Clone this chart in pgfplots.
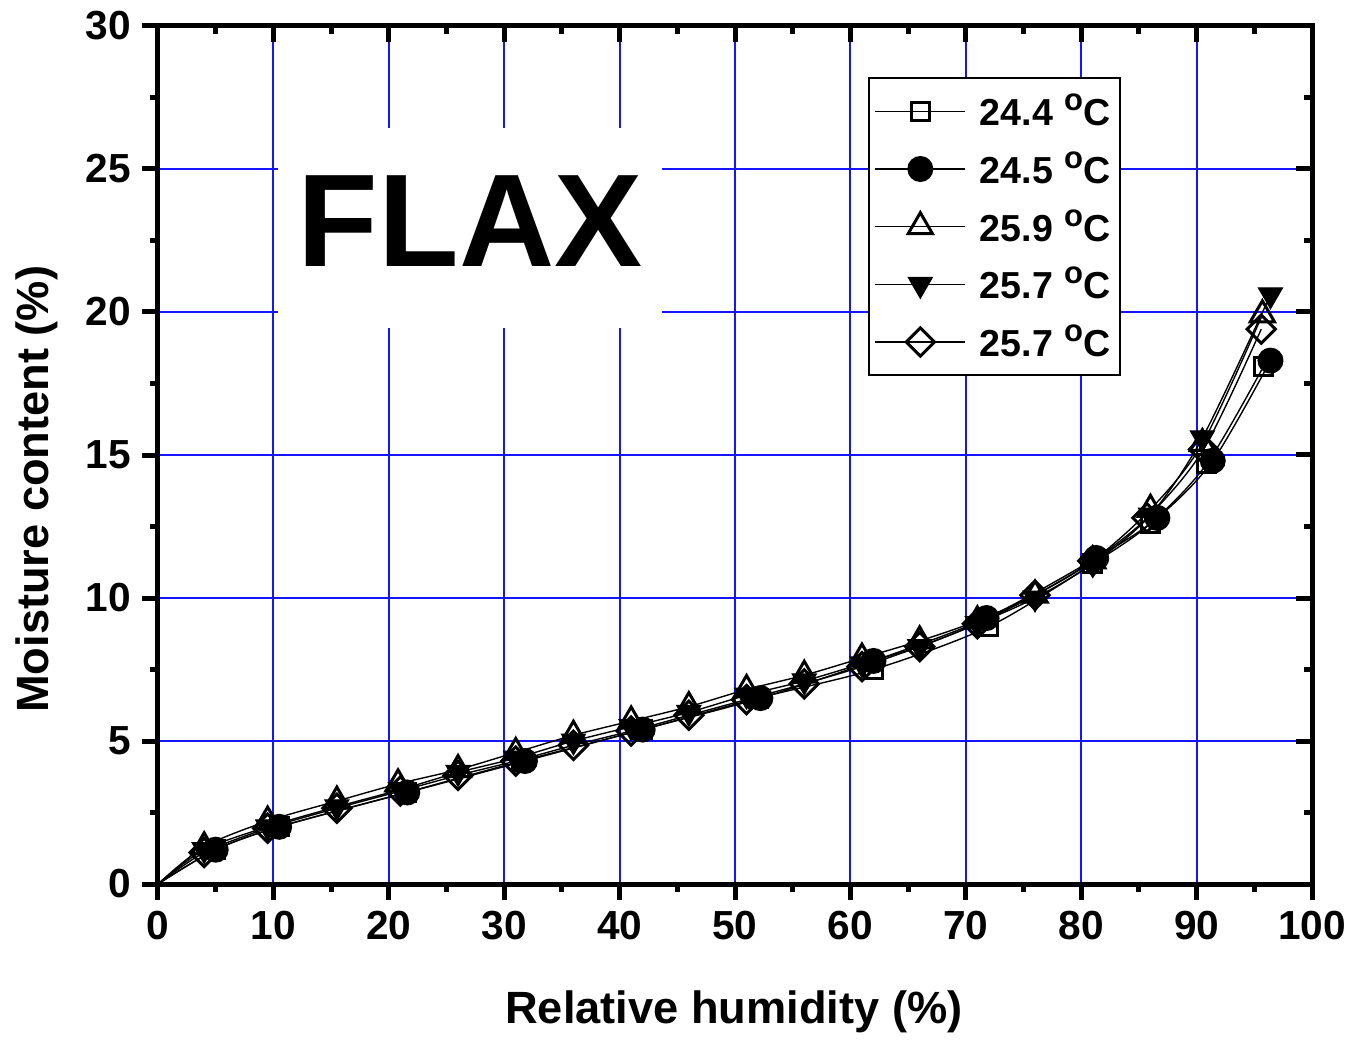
\documentclass[border=0pt]{standalone}
\usepackage{fontspec}
\setmainfont{Liberation Sans}
\usepackage{pgfplots}
\pgfplotsset{compat=1.18}

\definecolor{gridblue}{RGB}{20,20,255}
\newcommand\degc{\hspace{5.5pt}\raisebox{7.5pt}{\fontsize{15.5}{15}\selectfont o}C}

\begin{document}
\begin{tikzpicture}
\pgfplotsset{
  common/.style={
    width=577pt, height=429pt, scale only axis,
    xmin=0, xmax=100, ymin=0, ymax=30,
    xtick={0,10,...,100}, ytick={0,5,...,30},
    minor x tick num=1, minor y tick num=1,
    major tick length=8pt, minor tick length=4pt,
    every tick/.style={black, line width=2.5pt},
    every minor tick/.style={black, line width=2.5pt},
    axis line style={line width=2.5pt},
  }
}
\begin{axis}[common,
  xtick pos=left, ytick pos=left, tick align=outside,
  grid=major, major grid style={gridblue, line width=1pt},
  /pgf/number format/assume math mode=true,
  ticklabel style={font=\bfseries\fontsize{20.3}{24}\selectfont},
  xticklabel style={yshift=-2pt}, yticklabel style={xshift=-2pt},
  xlabel={\bfseries Relative humidity (\%)},
  ylabel={\bfseries Moisture content (\%)},
  label style={font=\bfseries\fontsize{22.6}{26}\selectfont},
  xlabel style={at={(axis description cs:0.499,-0.149)}, anchor=center},
  ylabel style={at={(axis description cs:-0.105,0.46)}, anchor=center},
  every axis plot/.append style={black, line width=0.7pt, smooth, mark phase=2},
  legend style={at={(0.615,0.9406)}, anchor=north west, draw=black, line width=1pt,
    fill=white, font=\bfseries\fontsize{18.8}{22}\selectfont,
    row sep=7.5pt, inner xsep=3pt, inner ysep=6pt,
    /tikz/every odd column/.append style={column sep=5pt},
    cells={anchor=west}},
  legend image code/.code={\draw[mark repeat=2,mark phase=2,line width=0.6pt] plot coordinates {(0pt,0pt)(22.5pt,0pt)(45pt,0pt)};},
]
\node[fill=white, inner xsep=10pt, inner ysep=24pt, text depth=7pt,
  font=\bfseries\fontsize{66}{72}\selectfont]
  at (axis cs:27.04,22.94) {FLAX};

\addplot[mark=square, mark size=4.5pt, mark options={fill=white, line width=1.5pt, solid}] coordinates {
(0,0) (5,1.2) (10.5,2.0) (21.5,3.2) (31.5,4.3) (42,5.4) (52,6.5) (62,7.5) (72,9.0) (81,11.2) (86,12.6) (90.9,14.7) (95.8,18.1)};
\addlegendentry{24.4\degc}

\addplot[mark=*, mark size=6pt, mark options={fill=black, line width=1pt}] coordinates {
(0,0) (5,1.2) (10.5,2.0) (21.6,3.2) (31.8,4.3) (42,5.4) (52.2,6.5) (62,7.8) (71.8,9.3) (81.3,11.4) (86.6,12.8) (91.4,14.8) (96.4,18.3)};
\addlegendentry{24.5\degc}

\addplot[mark=triangle, mark size=7pt, mark options={fill=white, line width=1.5pt}] coordinates {
(0,0) (4,1.3) (9.5,2.2) (15.5,2.9) (20.8,3.5) (26,4.0) (31,4.6) (36,5.2) (41,5.7) (46,6.2) (51,6.8) (56,7.3) (61,7.9) (66,8.5) (71,9.2) (76,10.1) (81,11.3) (86,13.1) (90.5,15.4) (95.7,19.9)};
\addlegendentry{25.9\degc}

\addplot[mark=triangle*, mark size=7pt, mark options={fill=black, rotate=180, line width=0.5pt}] coordinates {
(0,0) (4,1.2) (9.5,2.0) (15.5,2.7) (21,3.3) (26,3.9) (31,4.4) (36,5.0) (41,5.5) (46,6.0) (51,6.6) (56,7.1) (61,7.7) (66,8.3) (71,9.1) (76,10.0) (81,11.2) (86,12.9) (90.5,15.6) (96.4,20.6)};
\addlegendentry{25.7\degc}

\addplot[mark=square, mark size=5pt, mark options={fill=white, rotate=45, line width=1.5pt}] coordinates {
(0,0) (4,1.1) (9.5,1.95) (15.5,2.65) (21,3.25) (26,3.8) (31,4.3) (36,4.85) (41,5.35) (46,5.9) (51,6.45) (56,7.0) (61,7.6) (66,8.3) (71,9.1) (76,10.1) (81,11.3) (85.7,12.8) (90.6,15.2) (95.6,19.4)};
\addlegendentry{25.7\degc}
\end{axis}
\begin{axis}[common,
  xtick pos=right, ytick pos=right, tick align=inside,
  xticklabels={}, yticklabels={},
]
\end{axis}
\pgfresetboundingbox
\path[use as bounding box] (-79pt,-80pt) rectangle (603pt,442pt);
\end{tikzpicture}
\end{document}
